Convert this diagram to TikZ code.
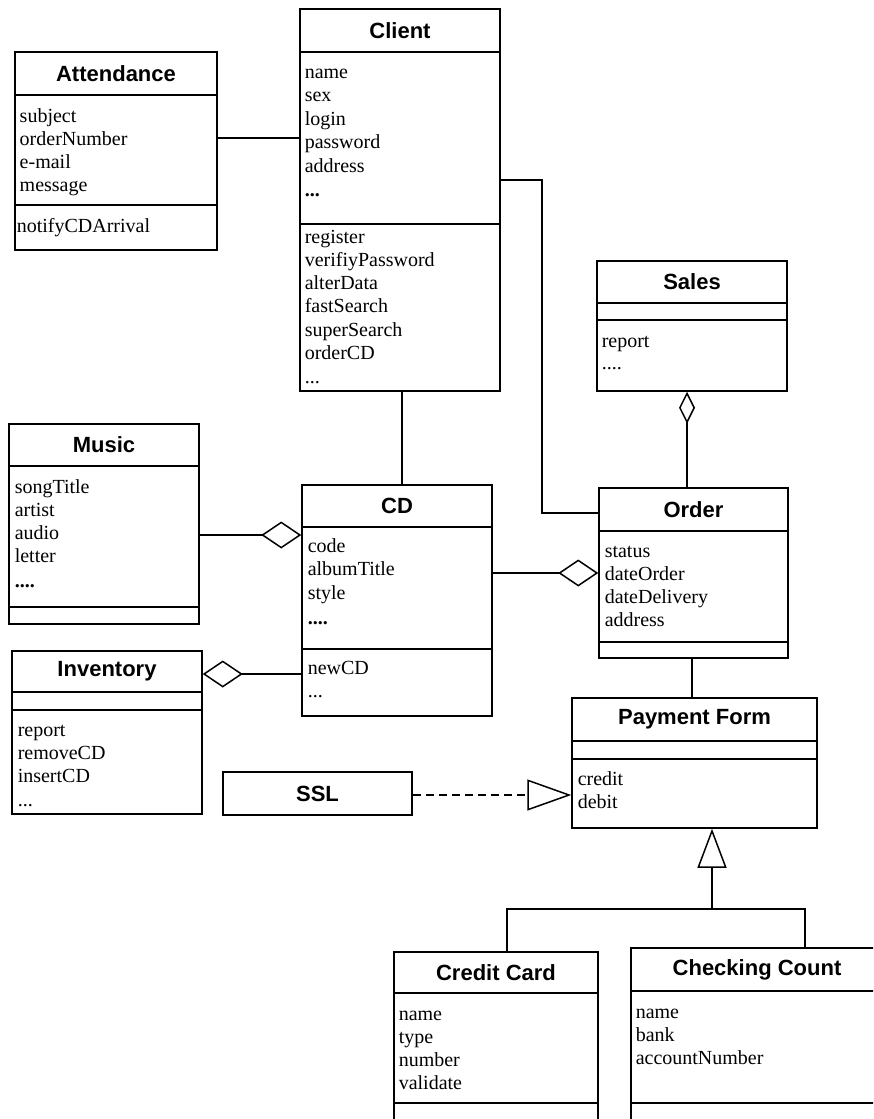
\documentclass[tikz,border=0pt]{standalone}
\usepackage{fontspec}
\setmainfont{Liberation Serif}
\setsansfont{Liberation Sans}
\usetikzlibrary{arrows.meta,fit}

\begin{document}
\begin{tikzpicture}[x=1pt,y=-1pt,line width=1.5pt,
    cls/.style={draw,inner sep=0pt},
    ttl/.style={font=\sffamily\bfseries\fontsize{22}{26}\selectfont,inner sep=0pt},
    attr/.style={font=\fontsize{20}{23}\selectfont,anchor=base west,inner sep=0pt},
    agg/.style={-{Diamond[open,length=40pt,width=27pt]}}]
    \useasboundingbox (0,0) rectangle (873,1119);
    \clip (0,0) rectangle (873,1119);
    \fill[white] (0,0) rectangle (873,1119);

    % Attendance
    \node[cls,fit={(15,52) (217,250)}] (attendance) {};
    \node[ttl] at (116,73.5) {Attendance};
    \draw (15,95)--(217,95) (15,205)--(217,205);
    \foreach \t [count=\i from 0] in {subject,orderNumber,e-mail,message}
        \node[attr] at (19,122+23.3*\i) {\t};
    \node[attr] at (16,232) {notifyCDArrival};

    % Client
    \node[cls,fit={(300,9) (500,391)}] (client) {};
    \node[ttl] at (400,30.5) {Client};
    \draw (300,52)--(500,52) (300,224)--(500,224);
    \foreach \t [count=\i from 0] in {name,sex,login,password,address}
        \node[attr] at (304,78+23.5*\i) {\t};
    \node[attr] at (304,196) {\textbf{...}};
    \foreach \t [count=\i from 0] in {register,verifiyPassword,alterData,fastSearch,superSearch,orderCD}
        \node[attr] at (304,243+23.3*\i) {\t};
    \node[attr] at (304,383) {...};

    % Music
    \node[cls,fit={(9,424) (199,624)}] (music) {};
    \node[ttl] at (104,445) {Music};
    \draw (9,466)--(199,466) (9,607)--(199,607);
    \foreach \t [count=\i from 0] in {songTitle,artist,audio,letter}
        \node[attr] at (14,493+23.3*\i) {\t};
    \node[attr] at (14,587) {\textbf{....}};

    % CD
    \node[cls,fit={(302,485) (492,716)}] (cd) {};
    \node[ttl] at (397,506) {CD};
    \draw (302,527)--(492,527) (302,649)--(492,649);
    \foreach \t [count=\i from 0] in {code,albumTitle,style}
        \node[attr] at (307,552+23.5*\i) {\t};
    \node[attr] at (307,624) {\textbf{....}};
    \node[attr] at (307,674) {newCD};
    \node[attr] at (307,697) {...};

    % Inventory
    \node[cls,fit={(12,651) (202,814)}] (inventory) {};
    \node[ttl] at (107,671.5) {Inventory};
    \draw (12,692)--(202,692) (12,710)--(202,710);
    \foreach \t [count=\i from 0] in {report,removeCD,insertCD}
        \node[attr] at (17,736+23*\i) {\t};
    \node[attr] at (17,806) {...};

    % SSL
    \node[cls,fit={(223,772) (412,815)}] (ssl) {};
    \node[ttl] at (317.5,793.5) {SSL};

    % Sales
    \node[cls,fit={(597,261) (787,391)}] (sales) {};
    \node[ttl] at (692,282) {Sales};
    \draw (597,303)--(787,303) (597,320)--(787,320);
    \node[attr] at (601,347) {report};
    \node[attr] at (601,369) {....};

    % Order
    \node[cls,fit={(599,488) (788,658)}] (order) {};
    \node[ttl] at (693.5,509.5) {Order};
    \draw (599,531)--(788,531) (599,642)--(788,642);
    \foreach \t [count=\i from 0] in {status,dateOrder,dateDelivery,address}
        \node[attr] at (604,557+23.3*\i) {\t};

    % Payment Form
    \node[cls,fit={(572,698) (817,828)}] (payment) {};
    \node[ttl] at (694.5,719.5) {Payment Form};
    \draw (572,741)--(817,741) (572,759)--(817,759);
    \node[attr] at (577,785) {credit};
    \node[attr] at (577,808) {debit};

    % Credit Card
    \node[cls,fit={(394,952) (598,1140)}] (creditcard) {};
    \node[ttl] at (496,972.5) {Credit Card};
    \draw (394,993)--(598,993) (394,1103)--(598,1103);
    \foreach \t [count=\i from 0] in {name,type,number,validate}
        \node[attr] at (398,1020+23.3*\i) {\t};

    % Checking Count
    \node[cls,fit={(631,948) (883,1140)}] (checking) {};
    \node[ttl] at (757,969.5) {Checking Count};
    \draw (631,991)--(883,991) (631,1103)--(883,1103);
    \foreach \t [count=\i from 0] in {name,bank,accountNumber}
        \node[attr] at (635,1018+23*\i) {\t};

    % connectors
    \draw (attendance.east |- 0,138) -- (client.west |- 0,138);
    \draw (client.south -| 402,0) -- (cd.north -| 402,0);
    \draw (client.east |- 0,180) -| (542,513) -- (order.west |- 0,513);
    \draw[agg] (music.east |- 0,535) -- (cd.west |- 0,535);
    \draw[agg] (cd.west |- 0,674) -- (inventory.east |- 0,674);
    \draw[agg] (cd.east |- 0,573) -- (order.west |- 0,573);
    \draw[-{Diamond[open,length=32pt,width=16pt]}] (order.north -| 687,0) -- (sales.south -| 687,0);
    \draw (order.south -| 692,0) -- (payment.north -| 692,0);
    \draw[dash pattern=on 8pt off 5pt,-{Triangle[open,length=44pt,width=31pt]}] (ssl.east |- 0,795) -- (payment.west |- 0,795);
    \coordinate (gen) at (712,909);
    \draw[-{Triangle[open,length=39pt,width=29pt]}] (gen) -- (payment.south -| 712,0);
    \draw (creditcard.north -| 507,0) |- (gen);
    \draw (checking.north -| 805,0) |- (gen);
\end{tikzpicture}
\end{document}
